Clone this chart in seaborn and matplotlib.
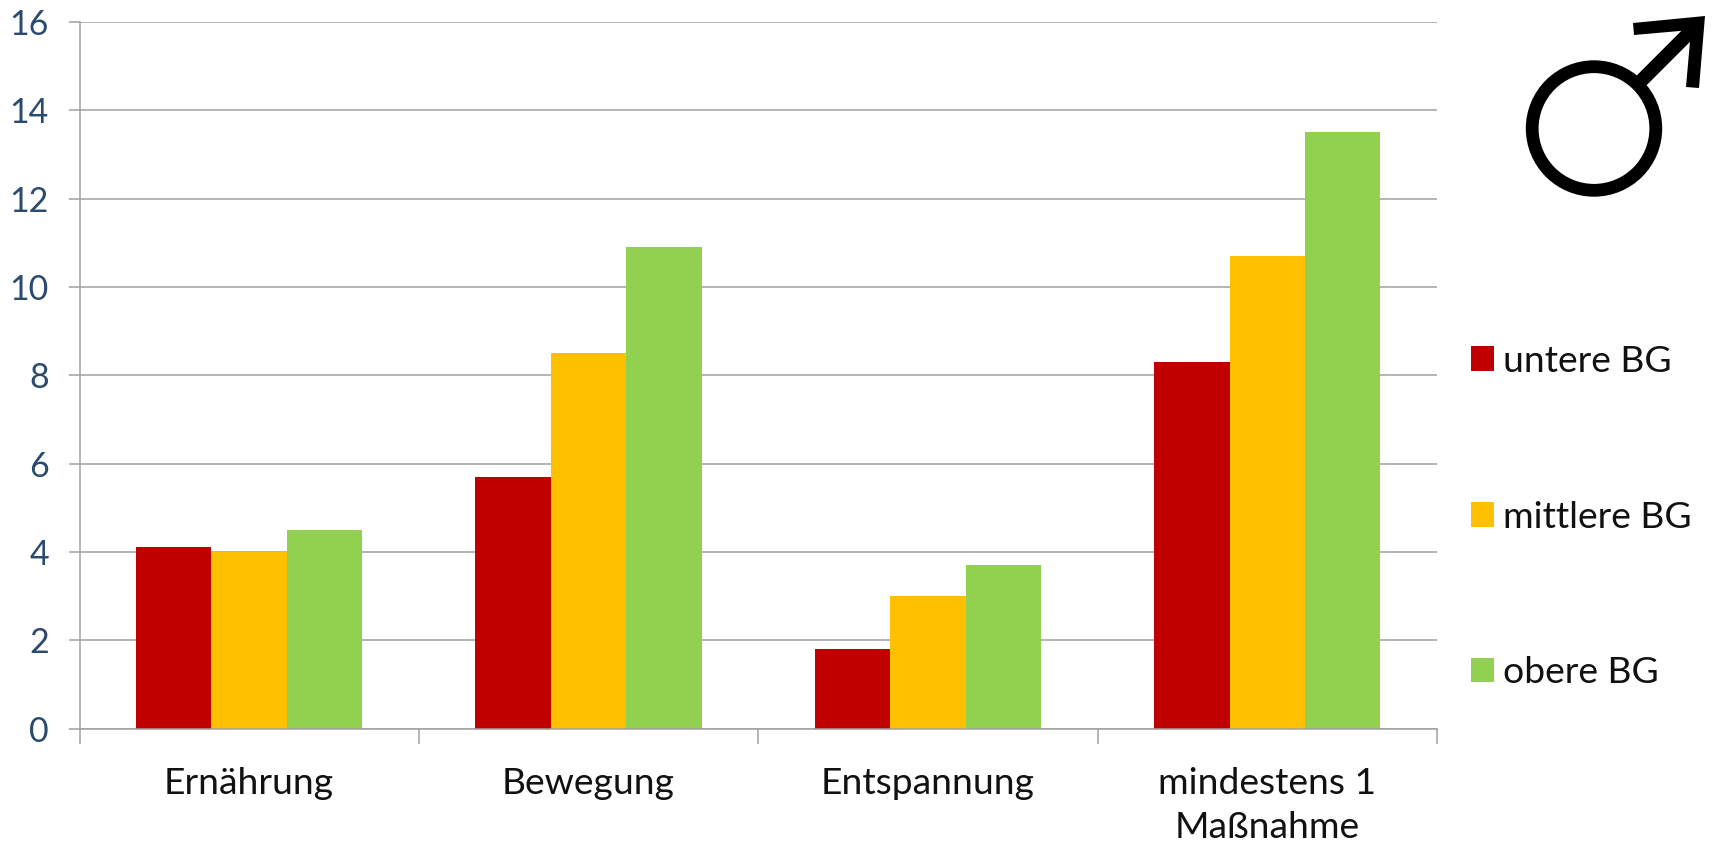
import matplotlib
matplotlib.use("Agg")
import matplotlib.pyplot as plt
from matplotlib.patches import Circle, Polygon
from matplotlib.lines import Line2D
import pandas as pd
import seaborn as sns

categories = ["Ernährung", "Bewegung", "Entspannung", "mindestens 1\nMaßnahme"]
groups = ["untere BG", "mittlere BG", "obere BG"]
untere = [4.1, 5.7, 1.8, 8.3]
mittlere = [4.0, 8.5, 3.0, 10.7]
obere = [4.5, 10.9, 3.7, 13.5]
colors = ["#C00000", "#FFC000", "#92D050"]
yticks = [0, 2, 4, 6, 8, 10, 12, 14, 16]

W, H = 1713, 844
sns.set_theme(style="white")
plt.rcParams["font.family"] = ["Lato", "DejaVu Sans"]

frame = pd.DataFrame({
    "Kategorie": categories * 3,
    "Gruppe": [g for g in groups for _ in categories],
    "Wert": untere + mittlere + obere,
})

fig = plt.figure(figsize=(W / 100, H / 100), dpi=100, facecolor="white")
ax = fig.add_axes([79.5 / W, 1 - 728.5 / H, (1437 - 79.5) / W, (728.5 - 22) / H])

sns.barplot(data=frame, x="Kategorie", y="Wert", hue="Gruppe", hue_order=groups,
            palette=colors, width=0.667, gap=0, saturation=1, errorbar=None,
            linewidth=0, ax=ax)

GRID = "#A0A0A0"
ax.set_xlim(-0.5, 3.5)
ax.set_ylim(0, 16)
ax.set_xlabel("")
ax.set_ylabel("")
ax.set_axisbelow(True)
ax.yaxis.grid(True, color=GRID, lw=1.1)
ax.xaxis.grid(False)

for side in ["top", "right"]:
    ax.spines[side].set_visible(False)
for side in ["left", "bottom"]:
    ax.spines[side].set_color(GRID)
    ax.spines[side].set_linewidth(1.1)

# Category names sit between the tick marks, which fall on the group boundaries
ax.set_xticks(range(len(categories)))
ax.set_xticklabels(categories, fontsize=26.8, color="#111111", linespacing=1.4)
ax.tick_params(axis="x", which="major", length=0, pad=28, bottom=False)
ax.set_xticks([-0.5, 0.5, 1.5, 2.5, 3.5], minor=True)
ax.tick_params(axis="x", which="minor", length=10.5, width=1.1, color=GRID, bottom=True)

ax.set_yticks(yticks)
ax.set_yticklabels([str(v) for v in yticks], fontsize=24.5, color="#2B4A6F")
ax.tick_params(axis="y", length=8, width=1.1, color=GRID, pad=14, left=True)

handles, labels = ax.get_legend_handles_labels()
ax.legend(handles, labels, loc="center left", bbox_to_anchor=(1471 / W, 1 - 517 / H),
          bbox_transform=fig.transFigure, frameon=False, fontsize=26.8,
          handlelength=0.63, handleheight=0.63, handletextpad=0.24,
          labelspacing=3.3, borderpad=0, borderaxespad=0, labelcolor="#111111")

# Mars symbol drawn in pixel coordinates on a transparent overlay
overlay = fig.add_axes([0, 0, 1, 1], facecolor="none")
overlay.set_xlim(0, W)
overlay.set_ylim(H, 0)
overlay.axis("off")
overlay.add_patch(Circle((1594, 128.5), 61.8, fill=False, ec="black", lw=9.2))
overlay.add_line(Line2D([1637, 1694], [85, 28], color="black", lw=10, solid_capstyle="butt"))
overlay.add_patch(Polygon([(1633, 23), (1705, 16), (1699, 88), (1686, 87), (1691, 30), (1634, 35)],
                          closed=True, fc="black", ec="none"))

fig.savefig("out.png", dpi=100)
